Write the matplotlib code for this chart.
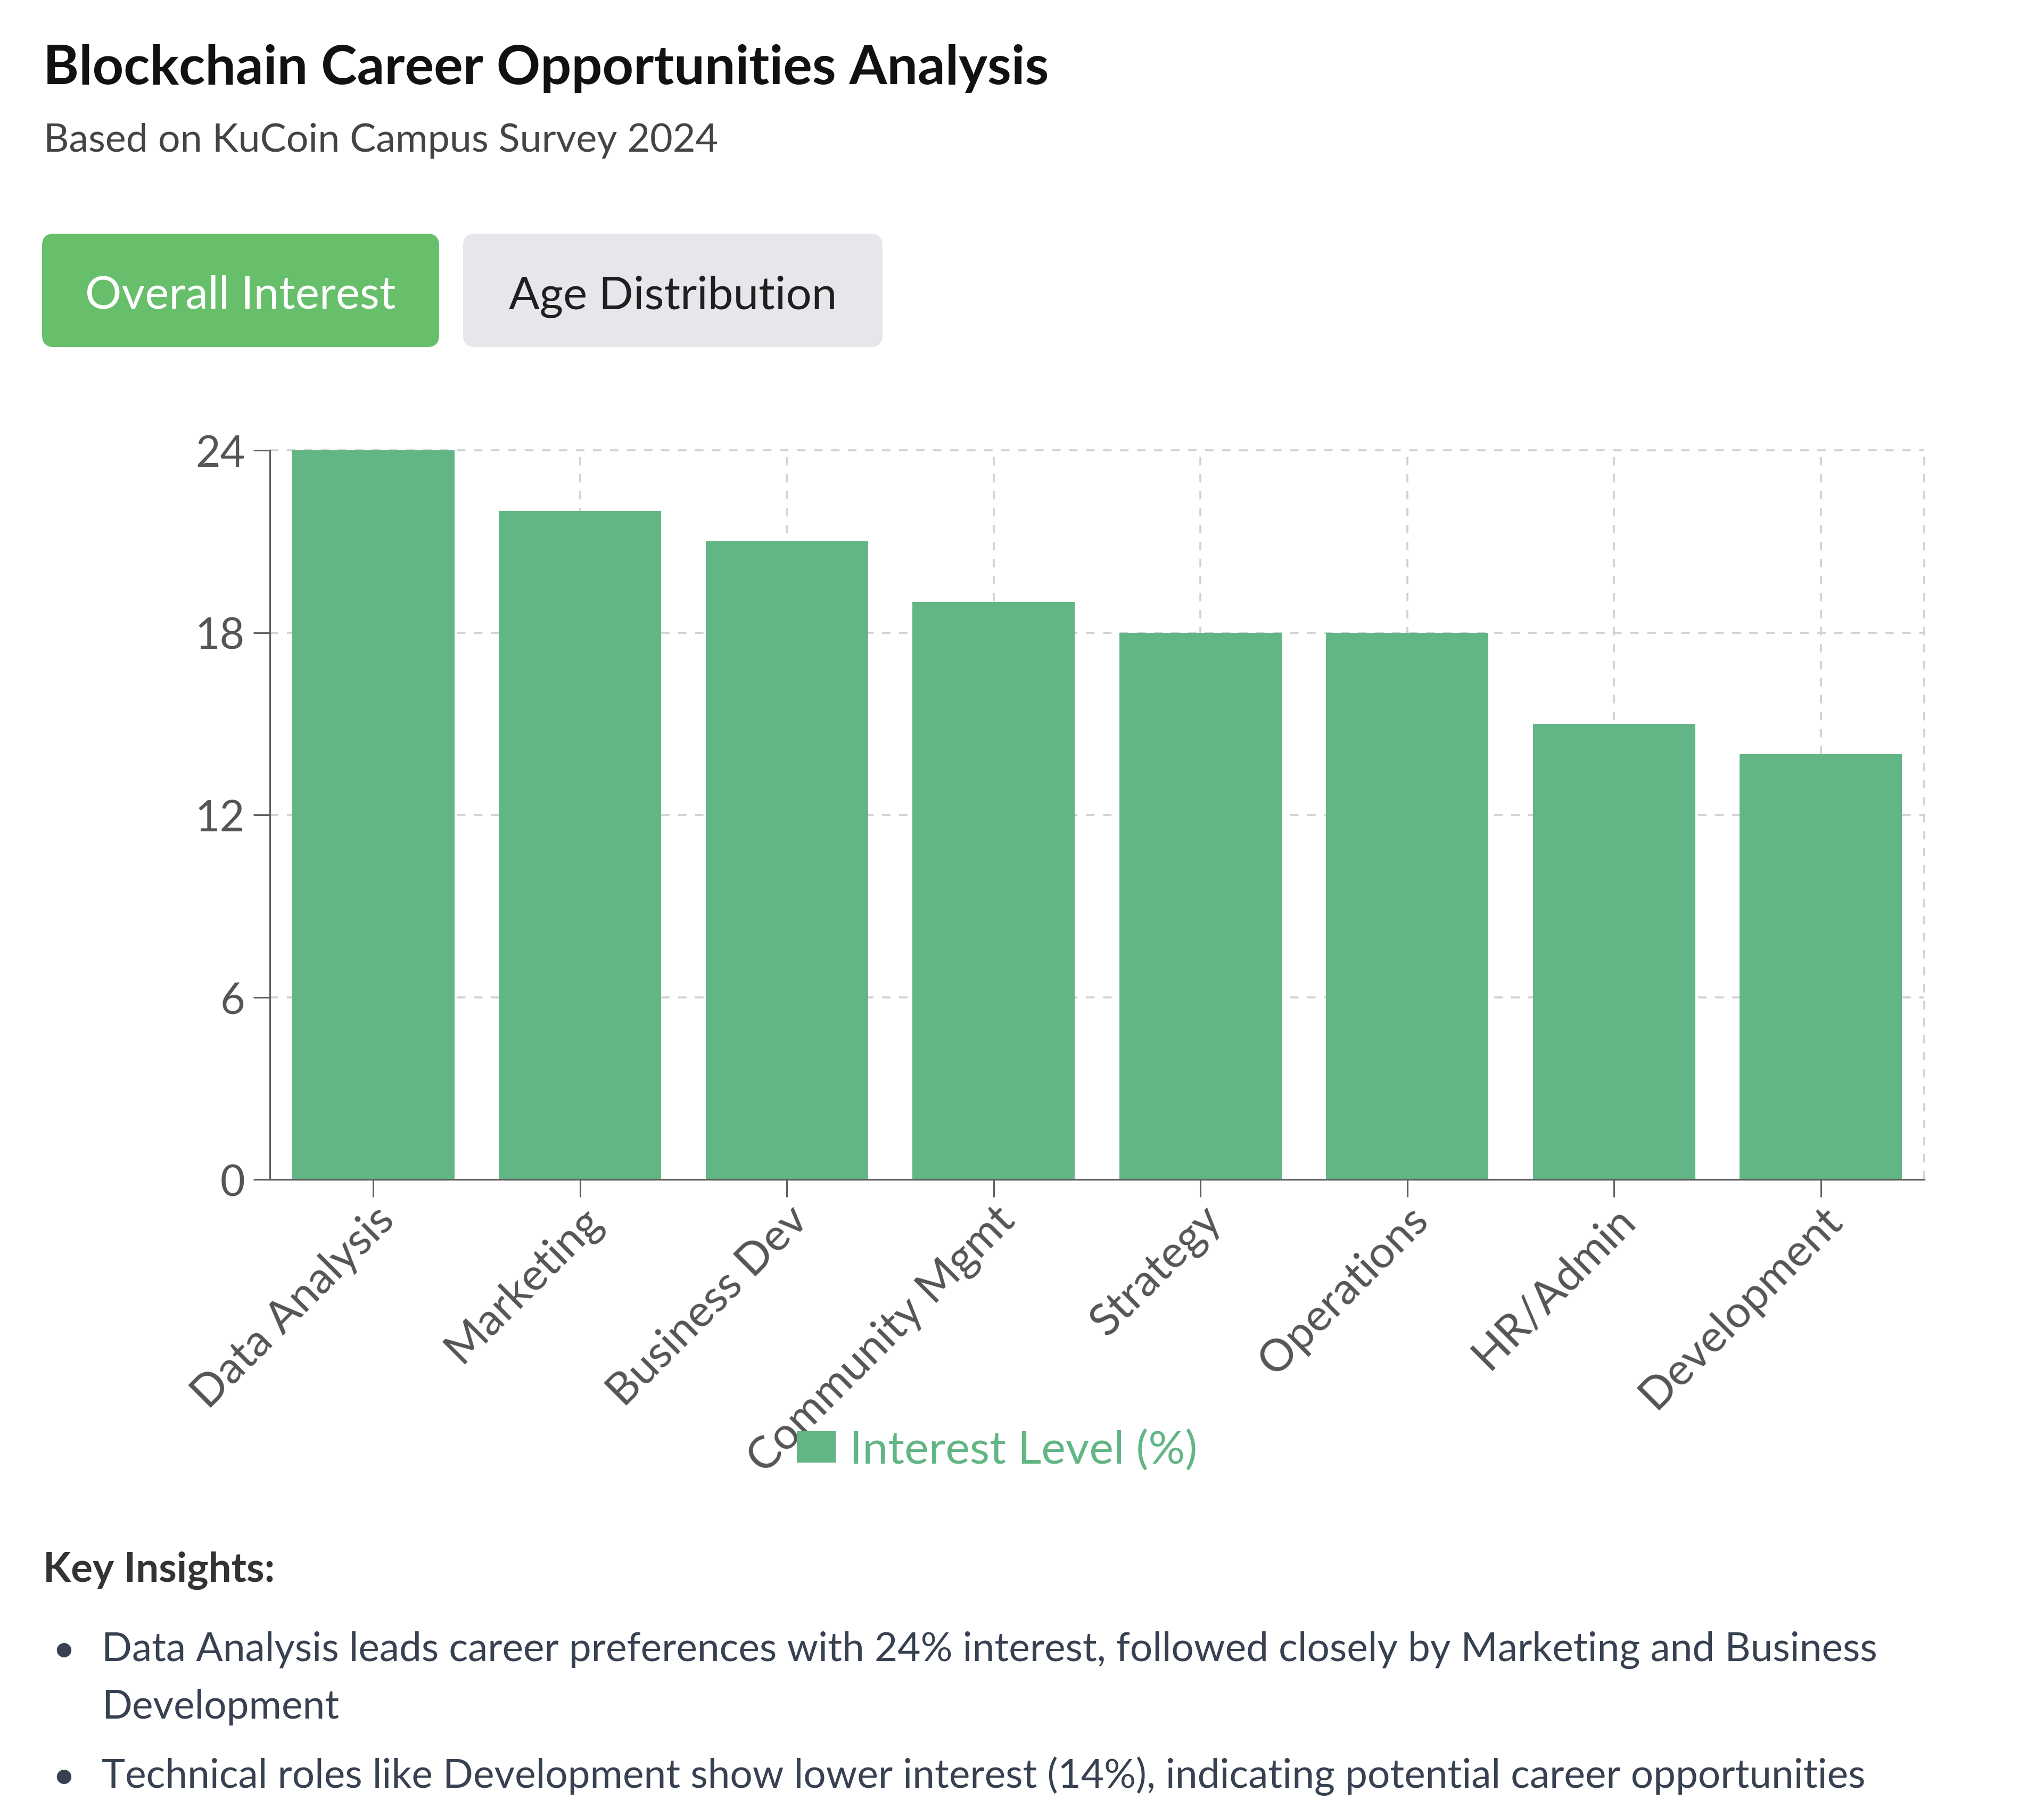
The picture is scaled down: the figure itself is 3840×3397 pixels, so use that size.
import numpy as np
import matplotlib
matplotlib.use('Agg')
import matplotlib.pyplot as plt
from matplotlib.patches import FancyBboxPatch
from matplotlib.transforms import ScaledTranslation

plt.rcParams['font.family'] = ['Lato', 'DejaVu Sans']
plt.rcParams['lines.scale_dashes'] = False

# data
careers = ['Data Analysis', 'Marketing', 'Business Dev', 'Community Mgmt',
           'Strategy', 'Operations', 'HR/Admin', 'Development']
interest = [24, 22, 21, 19, 18, 18, 15, 14]
y_ticks = [0, 6, 12, 18, 24]
series_name = 'Interest Level (%)'

title = 'Blockchain Career Opportunities Analysis'
subtitle = 'Based on KuCoin Campus Survey 2024'
tabs = ['Overall Interest', 'Age Distribution']
insights_head = 'Key Insights:'
insights = [
    ['Data Analysis leads career preferences with 24% interest, followed closely by Marketing and Business',
     'Development'],
    ['Technical roles like Development show lower interest (14%), indicating potential career opportunities'],
]

W, H = 3840, 3398
bar_color = '#62b584'
grid_color = '#d0d0d0'
axis_color = '#606060'
tick_text = '#555555'

fig = plt.figure(figsize=(W / 100, H / 100), dpi=100)

# page layer in pixel coordinates (top-left origin)
bg = fig.add_axes([0, 0, 1, 1])
bg.set_xlim(0, W)
bg.set_ylim(H, 0)
bg.axis('off')

bg.text(81, 158, title, fontsize=73.5, fontweight='bold', color='#111111', va='baseline')
bg.text(82, 285, subtitle, fontsize=53, color='#444444', va='baseline')

# tab buttons
btn_boxes = [(79, 440, 746, 213), (870, 440, 788, 213)]
btn_fill = ['#68bf6b', '#e5e7eb']
btn_text = ['white', '#1f1f1f']
for (bx, by, bw, bh), label, fc, tc in zip(btn_boxes, tabs, btn_fill, btn_text):
    bg.add_patch(FancyBboxPatch((bx, by), bw, bh, boxstyle='round,pad=0,rounding_size=22',
                                fc=fc, ec='none'))
    bg.text(bx + bw / 2, 580, label, fontsize=61.5, color=tc, ha='center', va='baseline')

# insights block
bg.text(81, 2972, insights_head, fontsize=55, fontweight='bold', color='#333333', va='baseline')
line_y = [[3121, 3229], [3359]]
for lines, ys in zip(insights, line_y):
    bg.text(120, ys[0] - 19, '\u2022', fontsize=53, color='#374151', ha='center', va='center')
    for txt, yy in zip(lines, ys):
        bg.text(191, yy, txt, fontsize=53.8, color='#374151', va='baseline')

# chart area
left, right, top, bottom = 507, 3615, 847, 2217
ax = fig.add_axes([left / W, 1 - bottom / H, (right - left) / W, (bottom - top) / H])
x = np.arange(len(careers))
bars = ax.bar(x, interest, width=0.785, color=bar_color, zorder=2, label=series_name)

ax.set_xlim(-0.5, len(careers) - 0.5)
ax.set_ylim(0, 24)
ax.set_yticks(y_ticks)
ax.set_xticks(x)
ax.set_xticklabels(careers)

dash = (0, (11.5, 11.5))
for v in y_ticks[1:]:
    ax.axhline(v, color=grid_color, lw=2.6, ls=dash, zorder=1, clip_on=False)
for v in list(x) + [len(careers) - 0.5]:
    ax.axvline(v, color=grid_color, lw=2.6, ls=dash, zorder=1, clip_on=False)

for s in ['top', 'right']:
    ax.spines[s].set_visible(False)
for s in ['left', 'bottom']:
    ax.spines[s].set_color(axis_color)
    ax.spines[s].set_linewidth(2.3)
    ax.spines[s].set_zorder(3)

ax.tick_params(axis='y', length=22.3, width=2.2, color=axis_color, pad=11.5,
               labelsize=58, labelcolor=tick_text)
ax.tick_params(axis='x', length=23.5, width=2.2, color=axis_color, pad=2.5,
               labelsize=60.5, labelcolor=tick_text)
shift = ScaledTranslation(0, 0, fig.dpi_scale_trans)
for lbl in ax.get_xticklabels():
    lbl.set_rotation(45)
    lbl.set_ha('right')
    lbl.set_va('top')
    lbl.set_rotation_mode('anchor')
    lbl.set_transform(lbl.get_transform() + shift)

leg = ax.legend(handles=[bars], labels=[series_name], loc='center',
                bbox_to_anchor=(1873 / W, 1 - 2725 / H), bbox_transform=fig.transFigure,
                frameon=False, fontsize=62, labelcolor=bar_color,
                handlelength=0.85, handleheight=0.68, handletextpad=0.3, borderpad=0)

fig.savefig('out.png', dpi=100, facecolor='white')
